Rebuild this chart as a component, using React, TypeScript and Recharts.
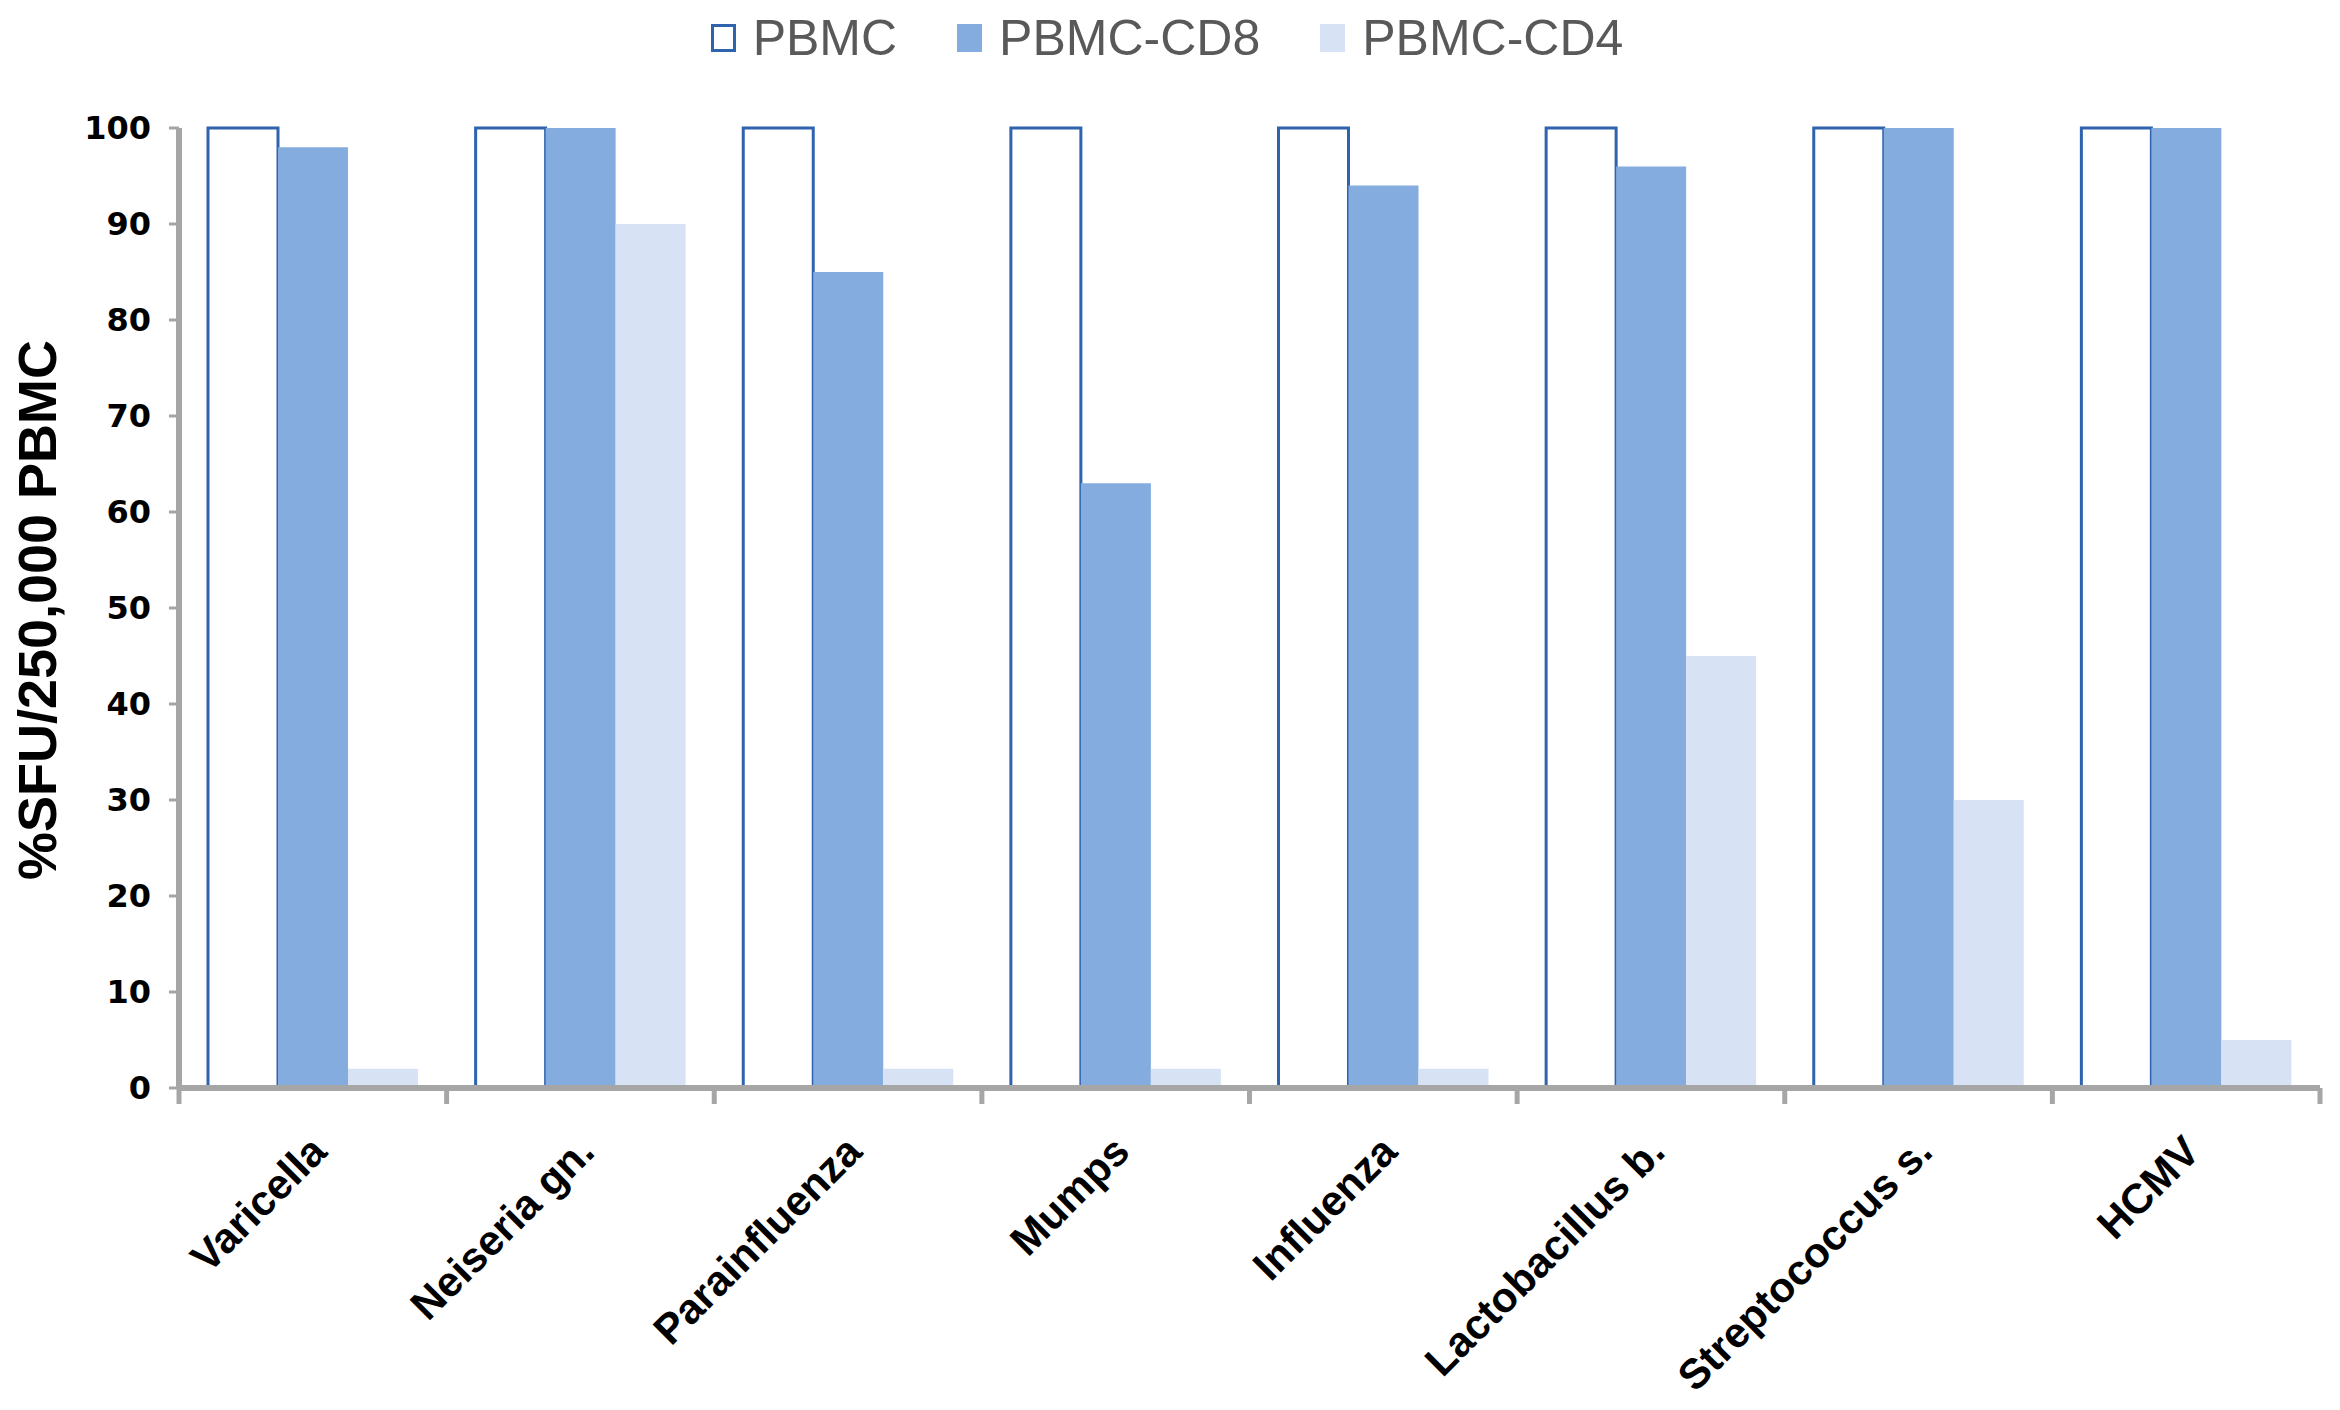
import React from 'react';
import { BarChart, Bar, XAxis, YAxis } from 'recharts';

const categories = [
  'Varicella',
  'Neiseria gn.',
  'Parainfluenza',
  'Mumps',
  'Influenza',
  'Lactobacillus b.',
  'Streptococcus s.',
  'HCMV',
];
const pbmc = [100, 100, 100, 100, 100, 100, 100, 100];
const pbmcCd8 = [98, 100, 85, 63, 94, 96, 100, 100];
const pbmcCd4 = [2, 90, 2, 2, 2, 45, 30, 5];
const yTicks = [0, 10, 20, 30, 40, 50, 60, 70, 80, 90, 100];

const W = 2340;
const H = 1410;
const M = { top: 128, right: 20, left: 0, bottom: 0 };
const Y_W = 179;
const X_H = 322;
const AXIS_Y = H - M.bottom - X_H;
const BAND = (W - M.left - M.right - Y_W) / categories.length;

const AXIS = '#a6a6a6';
const C_PBMC = '#2f63ae';
const C_CD8 = '#85acdf';
const C_CD4 = '#d7e3f4';
const SANS = "'Liberation Sans', Arial, sans-serif";

const data = categories.map((name, i) => ({
  name,
  PBMC: pbmc[i],
  'PBMC-CD8': pbmcCd8[i],
  'PBMC-CD4': pbmcCd4[i],
}));

const legendItems = [
  { name: 'PBMC', fill: '#ffffff', border: C_PBMC },
  { name: 'PBMC-CD8', fill: C_CD8, border: C_CD8 },
  { name: 'PBMC-CD4', fill: C_CD4, border: C_CD4 },
];

// category ticks sit on the group boundaries, labels hang off the centre at -45deg
const XTick = (props: any) => {
  const { x, payload, index } = props;
  const left = x - BAND / 2;
  const ax = x + 16;
  const ay = AXIS_Y + 66;
  return (
    <g>
      <line x1={left} y1={AXIS_Y} x2={left} y2={AXIS_Y + 16} stroke={AXIS} strokeWidth={5} />
      {index === categories.length - 1 && (
        <line x1={x + BAND / 2} y1={AXIS_Y} x2={x + BAND / 2} y2={AXIS_Y + 16} stroke={AXIS} strokeWidth={5} />
      )}
      <text
        x={ax}
        y={ay}
        transform={`rotate(-45, ${ax}, ${ay})`}
        textAnchor="end"
        fontFamily={SANS}
        fontWeight={700}
        fontSize={42}
        fill="#000"
      >
        {payload.value}
      </text>
    </g>
  );
};

export default function App() {
  return (
    <div style={{ position: 'absolute', left: 0, top: 0, width: W, height: H, background: '#fff' }}>
      <div
        style={{
          position: 'absolute',
          top: 9,
          left: 0,
          width: W,
          display: 'flex',
          justifyContent: 'center',
          alignItems: 'center',
          gap: 60,
          fontFamily: SANS,
          fontSize: 50,
          color: '#595959',
          paddingRight: 6,
          boxSizing: 'border-box',
        }}
      >
        {legendItems.map((it) => (
          <div key={it.name} style={{ display: 'flex', alignItems: 'center', gap: 17 }}>
            <div style={{ width: 19, height: 22, background: it.fill, border: `3px solid ${it.border}` }} />
            <span>{it.name}</span>
          </div>
        ))}
      </div>
      <BarChart width={W} height={H} data={data} margin={M} barGap={0}>
        <XAxis
          dataKey="name"
          height={X_H}
          axisLine={{ stroke: AXIS, strokeWidth: 6 }}
          tickLine={false}
          interval={0}
          tick={<XTick />}
        />
        <YAxis
          width={Y_W}
          domain={[0, 100]}
          ticks={yTicks}
          interval={0}
          axisLine={{ stroke: AXIS, strokeWidth: 6 }}
          tickLine={{ stroke: AXIS, strokeWidth: 3 }}
          tickSize={10}
          tickMargin={18}
          tick={{ fontFamily: "'DejaVu Sans', Verdana, sans-serif", fontWeight: 700, fontSize: 32, fill: '#000' }}
          label={{
            content: () => (
              <text
                x={37}
                y={610}
                transform="rotate(-90, 37, 610)"
                textAnchor="middle"
                dominantBaseline="central"
                fontFamily={SANS}
                fontWeight={700}
                fontSize={54}
                fill="#000"
              >
                %SFU/250,000 PBMC
              </text>
            ),
          }}
        />
        <Bar dataKey="PBMC" barSize={70} fill="#ffffff" stroke={C_PBMC} strokeWidth={3} isAnimationActive={false} />
        <Bar dataKey="PBMC-CD8" barSize={70} fill={C_CD8} isAnimationActive={false} />
        <Bar dataKey="PBMC-CD4" barSize={70} fill={C_CD4} isAnimationActive={false} />
      </BarChart>
    </div>
  );
}
